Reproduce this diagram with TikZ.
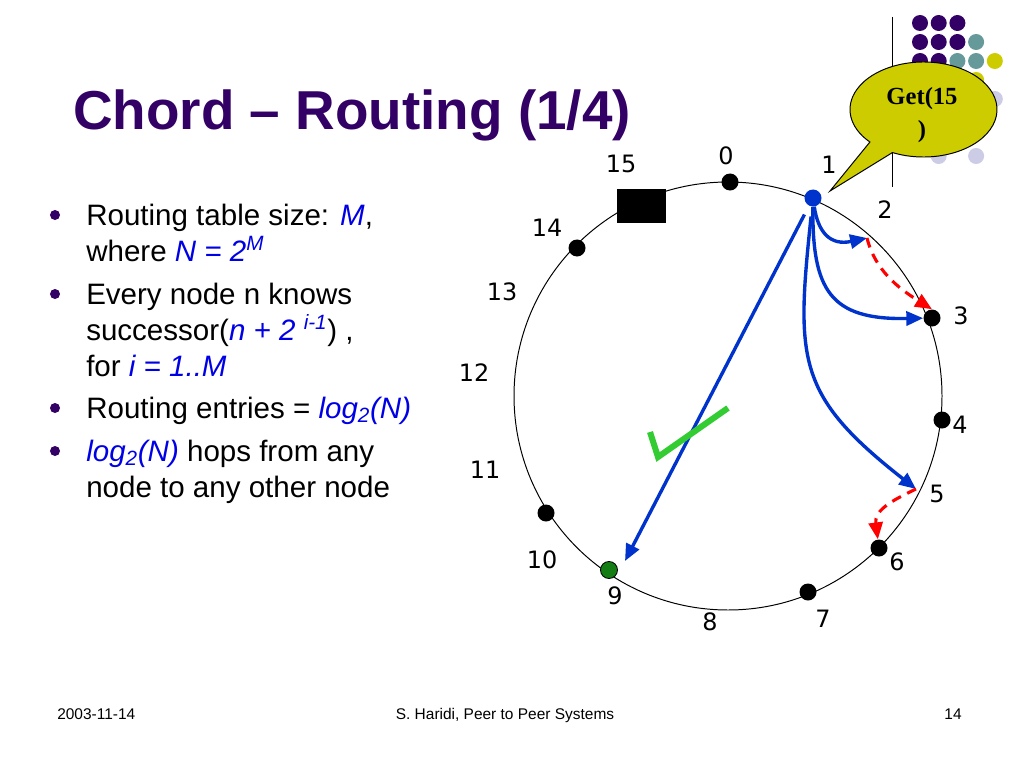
\documentclass[tikz,border=0pt]{standalone}
\usepackage{fontspec}
\setmainfont{Liberation Sans}
\newfontfamily\ringfont{DejaVu Sans}
\newfontfamily\getfont{Liberation Serif}
\usetikzlibrary{arrows.meta}
\definecolor{titlepurple}{RGB}{51,0,102}
\definecolor{hopblue}{RGB}{0,51,204}
\definecolor{textblue}{RGB}{0,0,230}
\definecolor{nodegreen}{RGB}{20,125,20}
\definecolor{checkgreen}{RGB}{51,204,51}
\definecolor{bubblefill}{RGB}{204,204,0}
\definecolor{dotpurple}{RGB}{51,0,102}
\definecolor{dotteal}{RGB}{102,153,153}
\definecolor{dotyellow}{RGB}{204,204,0}
\definecolor{dotlavender}{RGB}{204,204,230}
\newcommand\bluevar[1]{\textcolor{textblue}{\itshape #1}}

\begin{document}
\begin{tikzpicture}[x=0.025cm, y=-0.025cm,
  ringnode/.style={circle, fill=black, inner sep=0pt, minimum size=0.425cm},
  ringlabel/.style={font=\ringfont\fontsize{17}{20}\selectfont, inner sep=0pt},
  hop/.style={draw=hopblue, line width=2.4pt, -{Triangle[length=12pt,width=10pt]}},
  fix/.style={draw=red, line width=2.2pt, dash pattern=on 7pt off 5pt, -{Triangle[length=12pt,width=10pt]}},
  bullet/.style={circle, fill=titlepurple, inner sep=0pt, minimum size=0.25cm},
  item/.style={anchor=base west, align=left, inner sep=0pt, font=\fontsize{21}{25.6}\selectfont},
  footer/.style={anchor=base, inner sep=0pt, font=\fontsize{11}{13}\selectfont}]

\path[use as bounding box, fill=white] (0,0) rectangle (1024,768);

\foreach \c/\r/\col in {0/0/dotpurple, 1/0/dotpurple, 2/0/dotpurple,
  0/1/dotpurple, 1/1/dotpurple, 2/1/dotpurple, 3/1/dotteal,
  0/2/dotpurple, 1/2/dotpurple, 2/2/dotteal, 3/2/dotteal, 4/2/dotyellow,
  1/3/dotpurple, 2/3/dotteal, 3/3/dotyellow,
  4/4/dotlavender, 1/7/dotlavender, 3/7/dotlavender}
  \fill[\col] (920+18.7*\c, 23+19*\r) circle [radius=8];
\draw[line width=0.6pt] (892,17) -- (892,187);

\node[anchor=base west, inner sep=0pt, text=titlepurple, font=\bfseries\fontsize{39}{47}\selectfont] (title) at (73,130) {Chord – Routing (1/4)};

\node[bullet] (B1) at (55,215) {};
\node[item] (I1) at (86,261) {Routing table size: \bluevar{M},\\where \bluevar{N = 2\textsuperscript{M}}};
\node[bullet] (B2) at (55,294) {};
\node[item] (I2) at (86,376) {Every node n knows\\successor(\bluevar{n + 2 \textsuperscript{i-1}}) ,\\for \bluevar{i = 1..M}};
\node[bullet] (B3) at (55,408) {};
\node[item] (I3) at (86,418) {Routing entries = \bluevar{log\textsubscript{2}(N)}};
\node[bullet] (B4) at (55,451) {};
\node[item] (I4) at (86,497) {\bluevar{log\textsubscript{2}(N)} hops from any\\node to any other node};

\draw[line width=0.7pt] (728,396) circle [radius=214];

\node[rectangle, fill=black, inner sep=0pt, minimum width=1.225cm, minimum height=0.825cm] (N15) at (641,206) {};
\node[ringnode] (N0) at (730,182) {};
\node[ringnode, fill=hopblue] (N1) at (813,198) {};
\node[ringnode] (N3) at (932,318) {};
\node[ringnode] (N4) at (942,420) {};
\node[ringnode] (N6) at (879,548) {};
\node[ringnode] (N7) at (808,592) {};
\node[ringnode, fill=nodegreen, draw=black, line width=0.6pt] (N9) at (609,570) {};
\node[ringnode] (N10) at (546,513) {};
\node[ringnode] (N14) at (577,248) {};

\node[ringlabel] (L0) at (726,156) {0};
\node[ringlabel] (L1) at (829,165) {1};
\node[ringlabel] (L2) at (885,210) {2};
\node[ringlabel] (L3) at (961,316) {3};
\node[ringlabel] (L4) at (960,425) {4};
\node[ringlabel] (L5) at (937,494) {5};
\node[ringlabel] (L6) at (897,562) {6};
\node[ringlabel] (L7) at (823,619) {7};
\node[ringlabel] (L8) at (710,622) {8};
\node[ringlabel] (L9) at (615,596) {9};
\node[ringlabel] (L10) at (542,560) {10};
\node[ringlabel] (L11) at (485,470) {11};
\node[ringlabel] (L12) at (474,373) {12};
\node[ringlabel] (L13) at (502,292) {13};
\node[ringlabel] (L14) at (547,228) {14};
\node[ringlabel] (L15) at (621,164) {15};

\coordinate (P2) at (867,238);
\coordinate (P5) at (916,489);
\coordinate (P9) at (625,561);

\draw[hop] (N1) .. controls (818,232) and (830,246) .. (P2);
\draw[hop] (N1) .. controls (812,290) and (830,320) .. (N3);
\draw[hop, shorten <=7pt] (N1) .. controls (796,360) and (796,395) .. (P5);
\draw[hop, shorten <=7pt] (N1) -- (P9);
\draw[fix] (P2) .. controls (875,270) and (898,288) .. (N3.north);
\draw[fix] (P5) .. controls (893,500) and (874,510) .. (N6);

\draw[checkgreen, line width=4.3pt] (650,432) -- (658,457) -- (728,408);

\filldraw[fill=bubblefill, draw=black, line width=0.7pt] (923.5,109.5) ++(115:73.5 and 47.5) arc[start angle=115, end angle=-223.2, x radius=73.5, y radius=47.5] -- (830,191) -- cycle;
\node[anchor=base, align=center, inner sep=0pt, font=\getfont\bfseries\fontsize{17.5}{24}\selectfont] (get) at (922,138) {Get(15\\)};

\node[footer, anchor=base west] (date) at (57,719) {2003-11-14};
\node[footer] (source) at (505,719) {S. Haridi, Peer to Peer Systems};
\node[footer] (page) at (953,719) {14};

\end{tikzpicture}
\end{document}
